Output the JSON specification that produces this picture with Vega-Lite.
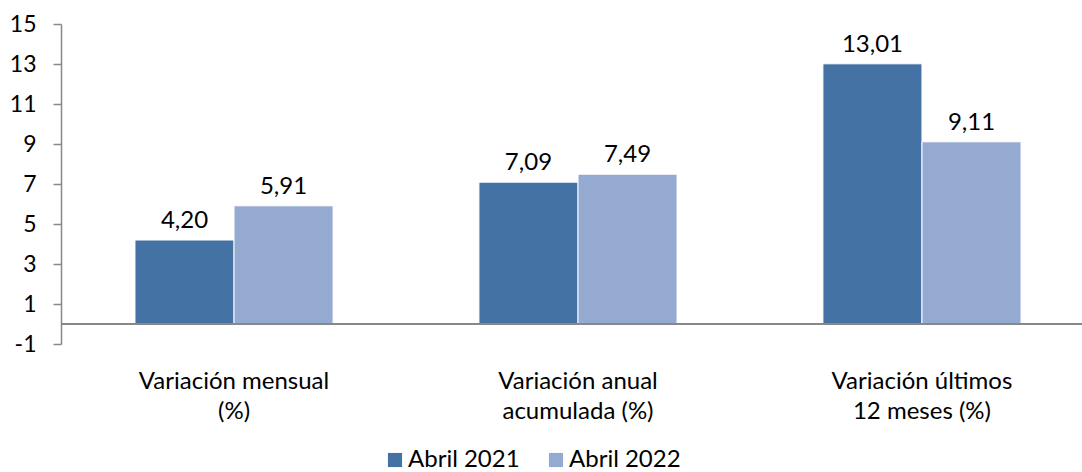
{
  "$schema": "https://vega.github.io/schema/vega-lite/v6.json",
  "width": 1021,
  "height": 320,
  "autosize": {"type": "none"},
  "padding": {"left": 61, "top": 24, "right": 0, "bottom": 128},
  "config": {
    "view": {"stroke": null},
    "font": "Lato",
    "locale": {"number": {"decimal": ",", "thousands": ".", "grouping": [3], "currency": ["", ""], "minus": "-"}}
  },
  "data": {
    "values": [
      {"cat": "Variación mensual|(%)", "serie": "Abril 2021", "valor": 4.20},
      {"cat": "Variación mensual|(%)", "serie": "Abril 2022", "valor": 5.91},
      {"cat": "Variación anual|acumulada (%)", "serie": "Abril 2021", "valor": 7.09},
      {"cat": "Variación anual|acumulada (%)", "serie": "Abril 2022", "valor": 7.49},
      {"cat": "Variación últimos|12 meses (%)", "serie": "Abril 2021", "valor": 13.01},
      {"cat": "Variación últimos|12 meses (%)", "serie": "Abril 2022", "valor": 9.11}
    ]
  },
  "encoding": {
    "x": {
      "field": "cat", "type": "nominal", "sort": null,
      "scale": {"paddingInner": 0.424, "paddingOuter": 0.215, "range": [0, 1034]},
      "axis": {
        "title": null, "labelAngle": 0, "domain": false, "ticks": false,
        "labelExpr": "split(datum.label, '|')", "labelLimit": 0,
        "labelFontSize": 24, "labelColor": "#000000", "labelPadding": 25,
        "labelBaseline": "top", "labelLineHeight": 30
      }
    },
    "xOffset": {"field": "serie", "type": "nominal"},
    "y": {
      "field": "valor", "type": "quantitative",
      "scale": {"domain": [-1, 15], "nice": false, "zero": false},
      "axis": {
        "title": null, "grid": false, "values": [-1, 1, 3, 5, 7, 9, 11, 13, 15],
        "domainColor": "#888888", "tickColor": "#888888", "tickSize": 8,
        "labelFontSize": 23, "labelColor": "#000000", "labelPadding": 17,
        "domainWidth": 1.5, "tickWidth": 1.5
      }
    }
  },
  "layer": [
    {
      "mark": {"type": "bar", "stroke": "#ffffff", "strokeWidth": 1},
      "encoding": {
        "y2": {"datum": 0},
        "color": {
          "field": "serie", "type": "nominal",
          "scale": {"domain": ["Abril 2021", "Abril 2022"], "range": ["#4572A5", "#95AAD1"]},
          "legend": {
            "title": null, "orient": "none", "direction": "horizontal",
            "legendX": 322, "legendY": 424,
            "symbolType": "square", "symbolSize": 200, "symbolStrokeWidth": 0,
            "labelFontSize": 24, "labelColor": "#000000", "columnPadding": 24, "labelOffset": 1
          }
        }
      }
    },
    {
      "mark": {"type": "text", "baseline": "bottom", "dy": -7, "fontSize": 24, "color": "#000000"},
      "encoding": {
        "text": {"field": "valor", "type": "quantitative", "format": ".2f"}
      }
    },
    {
      "mark": {"type": "rule", "color": "#888888", "strokeWidth": 2},
      "encoding": {"y": {"datum": 0}, "x": null, "xOffset": null}
    }
  ]
}
